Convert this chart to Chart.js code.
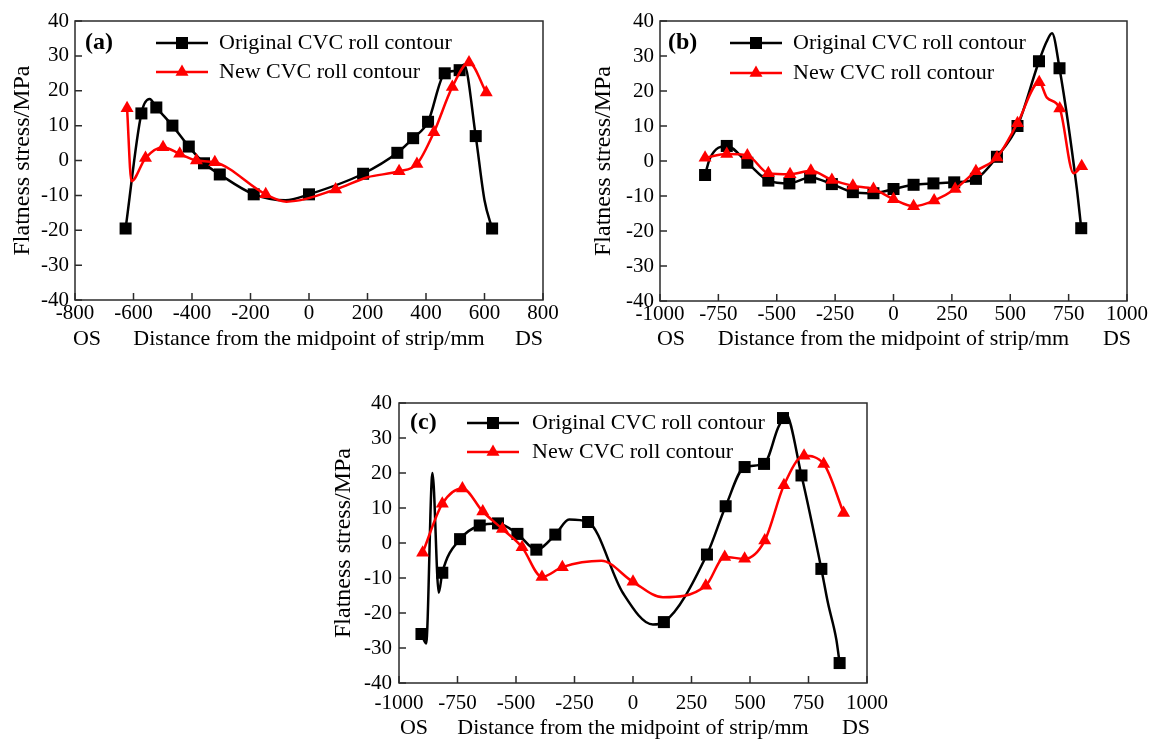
<!DOCTYPE html>
<html>
<head>
<meta charset="utf-8">
<script src="https://cdn.jsdelivr.net/npm/chart.js@4.4.1/dist/chart.umd.min.js"></script>
<style>
  html, body { margin: 0; padding: 0; background: #fff; }
  #wrap { position: relative; width: 1153px; height: 739px; overflow: hidden; }
  canvas { position: absolute; }
</style>
</head>
<body>
<div id="wrap">
  <canvas id="ca" width="576" height="360" style="left:0;top:0"></canvas>
  <canvas id="cb" width="577" height="360" style="left:576px;top:0"></canvas>
  <canvas id="cc" width="600" height="380" style="left:300px;top:370px"></canvas>
</div>
<script>
"use strict";
/* Flatness stress across strip width: original vs new CVC roll contour, panels (a)(b)(c).
   Marker points are the plotted symbols; "bend" points are read off the smoothed curve
   between symbols (drawn without a marker). */

const LEGEND = ["Original CVC roll contour", "New CVC roll contour"];
const Y_TITLE = "Flatness stress/MPa";
const X_TITLE = "Distance from the midpoint of strip/mm";

// ---- (a)
const aOrigX = [-627, -573, -522, -467, -411, -359, -305, -189, 0, 185, 302, 356, 407, 464, 515, 570, 626];
const aOrigY = [-19.5, 13.5, 15.2, 10, 4, -0.8, -4, -9.7, -9.7, -3.8, 2.2, 6.4, 11.1, 25, 25.9, 7, -19.5];
const aOrigBendX = [-545, -80, 530, 600];
const aOrigBendY = [17.6, -11.4, 27.5, -11.4];
const aNewX = [-622, -559, -499, -442, -385, -322, -148, 91, 308, 369, 427, 490, 547, 606];
const aNewY = [15, 0.7, 3.8, 1.9, 0, -0.5, -9.7, -8.3, -3.1, -1, 8.1, 21.1, 28.1, 19.5];
const aNewBendX = [-607, -77, 200];
const aNewBendY = [-5.9, -11.8, -4.8];

// ---- (b)
const bOrigX = [-807, -714, -626, -536, -446, -357, -264, -174, -86, 0, 86, 171, 260, 353, 443, 531, 623, 711, 804];
const bOrigY = [-4, 4.3, -0.5, -5.6, -6.4, -4.7, -6.6, -8.9, -9.2, -8, -6.8, -6.4, -6.1, -5.1, 1.2, 10, 28.5, 26.5, -19.2];
const bOrigBendX = [-786, 655, 679, 785];
const bOrigBendY = [0.8, 34, 36.5, -7.8];
const bNewX = [-807, -714, -626, -536, -443, -354, -264, -174, -86, 0, 86, 174, 264, 353, 443, 531, 624, 712, 806];
const bNewY = [0.9, 2, 1.6, -3.5, -3.8, -2.8, -5.4, -7.1, -8, -10.9, -12.9, -11.3, -8, -2.9, 1, 10.8, 22.5, 15, -1.5];
const bNewBendX = [657, 771];
const bNewBendY = [18.1, -3.5];

// ---- (c)
const cOrigX = [-904, -815, -739, -655, -577, -494, -413, -332, -192, 132, 316, 396, 477, 560, 641, 720, 805, 883];
const cOrigY = [-26, -8.5, 1.1, 5, 5.6, 2.6, -1.9, 2.4, 6, -22.6, -3.3, 10.5, 21.7, 22.6, 35.7, 19.3, -7.4, -34.3];
const cOrigBendX = [-884, -857, -830, -273, -43, 85, 620, 651, 833, 869];
const cOrigBendY = [-28.7, 20, -14.2, 6.7, -14.3, -23.3, 32.9, 37, -17.1, -27.6];
const cNewX = [-899, -815, -729, -642, -558, -474, -389, -302, 0, 311, 392, 477, 563, 645, 731, 815, 900];
const cNewY = [-2.8, 11.2, 15.6, 9, 4, -1.2, -9.7, -6.9, -11.1, -12.2, -4, -4.5, 0.7, 16.5, 24.9, 22.6, 8.6];
const cNewBendX = [-135, 128];
const cNewBendY = [-5.1, -15.5];

const FONT = "'Liberation Serif', 'Times New Roman', serif";

function pts(mx, my, bx, by) {
  const out = mx.map((x, i) => ({ x, y: my[i], m: true }));
  bx.forEach((x, i) => out.push({ x, y: by[i], m: false }));
  return out.sort((p, q) => p.x - q.x);
}

const deco = {
  id: "deco",
  afterDatasetsDraw(chart, args, o) {
    const { ctx, chartArea: a, scales: { x, y } } = chart;
    ctx.save();
    // frame + inward ticks
    ctx.strokeStyle = "#2b2b2b"; ctx.lineWidth = 1.5;
    ctx.strokeRect(a.left, a.top, a.right - a.left, a.bottom - a.top);
    ctx.beginPath();
    x.ticks.forEach((t) => { const px = x.getPixelForValue(t.value); ctx.moveTo(px, a.bottom); ctx.lineTo(px, a.bottom - 7); });
    y.ticks.forEach((t) => { const py = y.getPixelForValue(t.value); ctx.moveTo(a.left, py); ctx.lineTo(a.left + 7, py); });
    ctx.stroke();
    // OS / DS
    ctx.fillStyle = "#000"; ctx.textBaseline = "middle"; ctx.textAlign = "center";
    ctx.font = "22px " + FONT;
    ctx.fillText("OS", a.left + o.os, a.bottom + o.sideY);
    ctx.fillText("DS", a.right - o.ds, a.bottom + o.sideY);
    // panel tag
    ctx.textAlign = "left";
    ctx.font = "bold 24px " + FONT;
    ctx.fillText(o.tag, a.left + o.tagX, a.top + o.rows[0]);
    // legend
    ctx.font = "22px " + FONT;
    const order = [1, 0];   // black entry first, red second
    order.forEach((di, k) => {
      const ds = chart.data.datasets[di];
      const yy = a.top + o.rows[k], x0 = a.left + o.lineX, x1 = x0 + 52;
      ctx.strokeStyle = ds.borderColor; ctx.lineWidth = 2.5;
      ctx.beginPath(); ctx.moveTo(x0, yy); ctx.lineTo(x1, yy); ctx.stroke();
      ctx.fillStyle = ds.borderColor;
      Chart.helpers.drawPoint(ctx, { pointStyle: ds.pointStyle, radius: ds.legendRadius, rotation: 0, borderWidth: 0 }, (x0 + x1) / 2, yy);
      ctx.fillStyle = "#000";
      ctx.fillText(LEGEND[k], a.left + o.textX, yy);
    });
    ctx.restore();
  }
};

function panel(id, box, xr, orig, neu, d) {
  const cv = document.getElementById(id);
  const W = cv.width, H = cv.height;
  const tickFont = { family: FONT, size: 21 };
  const plain = (v) => String(v);
  return new Chart(cv, {
    type: "scatter",
    data: {
      datasets: [
        { label: LEGEND[1], data: neu, showLine: true, order: 1,
          borderColor: "#ff0000", backgroundColor: "#ff0000", borderWidth: 2.5,
          cubicInterpolationMode: "monotone", pointStyle: "triangle", legendRadius: 7.5,
          pointRadius: (c) => (c.raw && c.raw.m ? 7.5 : 0), pointBorderWidth: 0 },
        { label: LEGEND[0], data: orig, showLine: true, order: 2,
          borderColor: "#000000", backgroundColor: "#000000", borderWidth: 2.5,
          cubicInterpolationMode: "monotone", pointStyle: "rect", legendRadius: 8.5,
          pointRadius: (c) => (c.raw && c.raw.m ? 8.5 : 0), pointBorderWidth: 0 },
      ],
    },
    options: {
      responsive: false, animation: false, devicePixelRatio: 1,
      layout: { padding: { left: 0, top: box.t, right: W - box.r, bottom: 0 } },
      scales: {
        x: {
          type: "linear", min: xr[0], max: xr[1],
          afterFit: (s) => { s.height = H - box.b; },
          grid: { display: false, drawTicks: false }, border: { display: false },
          ticks: { stepSize: xr[2], color: "#000", font: tickFont, padding: d.xPad, maxRotation: 0,
                   autoSkip: false, callback: plain },
          title: { display: true, text: X_TITLE, color: "#000", font: { family: FONT, size: 22 },
                   padding: { top: 0, bottom: d.xTitlePad } },
        },
        y: {
          min: -40, max: 40,
          afterFit: (s) => { s.width = box.l; },
          grid: { display: false, drawTicks: false }, border: { display: false },
          ticks: { stepSize: 10, color: "#000", font: tickFont, padding: d.yPad, callback: plain },
          title: { display: true, text: Y_TITLE, color: "#000", font: { family: FONT, size: 24 },
                   padding: { top: d.yTitlePad, bottom: 0 } },
        },
      },
      plugins: { legend: { display: false }, tooltip: { enabled: false }, deco: d },
    },
    plugins: [deco],
  });
}

panel("ca", { l: 75, t: 21, r: 543, b: 300 }, [-800, 800, 200],
  pts(aOrigX, aOrigY, aOrigBendX, aOrigBendY), pts(aNewX, aNewY, aNewBendX, aNewBendY),
  { tag: "(a)", tagX: 10, rows: [22, 51], lineX: 81, textX: 144, os: 12, ds: 14, sideY: 39,
    xPad: 1, xTitlePad: 8, yPad: 6, yTitlePad: 8 });

panel("cb", { l: 84, t: 21, r: 551, b: 301 }, [-1000, 1000, 250],
  pts(bOrigX, bOrigY, bOrigBendX, bOrigBendY), pts(bNewX, bNewY, bNewBendX, bNewBendY),
  { tag: "(b)", tagX: 8, rows: [22, 52], lineX: 70, textX: 133, os: 11, ds: 10, sideY: 38,
    xPad: 1, xTitlePad: 8, yPad: 6, yTitlePad: 13 });

panel("cc", { l: 99, t: 33, r: 567, b: 313 }, [-1000, 1000, 250],
  pts(cOrigX, cOrigY, cOrigBendX, cOrigBendY), pts(cNewX, cNewY, cNewBendX, cNewBendY),
  { tag: "(c)", tagX: 11, rows: [20, 49], lineX: 68, textX: 133, os: 15, ds: 11, sideY: 45,
    xPad: 8, xTitlePad: 9, yPad: 7, yTitlePad: 29 });
</script>
</body>
</html>
